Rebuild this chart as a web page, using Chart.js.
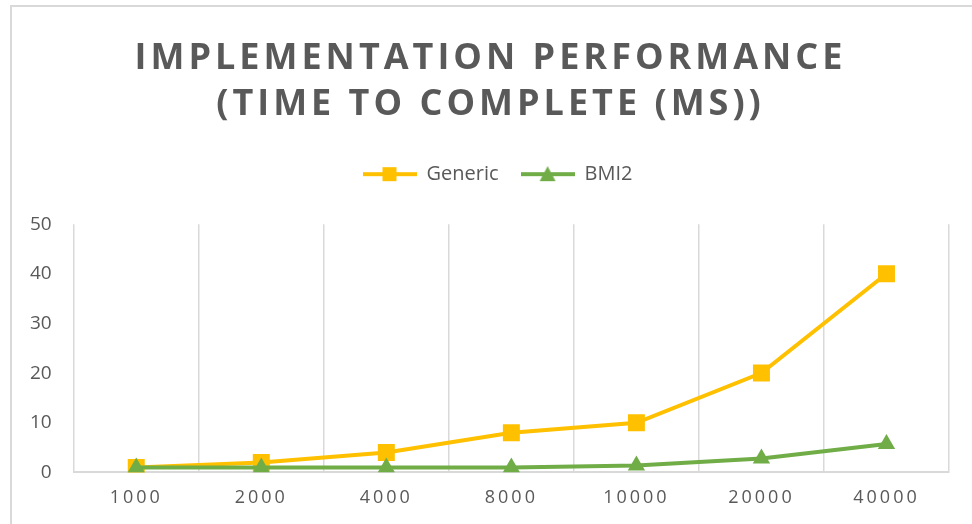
<!DOCTYPE html>
<html>
<head>
<meta charset="utf-8">
<title>Implementation performance</title>
<script src="https://cdn.jsdelivr.net/npm/chart.js@4.4.1/dist/chart.umd.min.js"></script>
<style>
  html, body { margin: 0; padding: 0; background: #fff; overflow: hidden; }
  #wrap { position: relative; width: 972px; height: 524px; }
  #frame {
    position: absolute; left: 10px; top: 5px; width: 1000px; height: 600px;
    border: 2px solid #d9d9d9; pointer-events: none;
  }
</style>
</head>
<body>
<div id="wrap">
  <canvas id="grafico" width="972" height="524"></canvas>
  <div id="frame"></div>
</div>
<script>
const categorias = ["1000", "2000", "4000", "8000", "10000", "20000", "40000"];
const generic = [1, 2, 4, 8, 10, 20, 40];
const bmi2 = [1, 1, 1, 1, 1.4, 2.8, 5.7];
const yTicks = [0, 10, 20, 30, 40, 50];

const gris = "#595959";
const amarillo = "#FFC000";
const verde = "#70AD47";

// legend swatch: line with the marker in the middle, like the series
function swatch(color, forma) {
    const c = document.createElement("canvas");
    c.width = 54; c.height = 18;
    const g = c.getContext("2d");
    g.strokeStyle = color;
    g.lineWidth = 4;
    g.beginPath(); g.moveTo(0, 9); g.lineTo(54, 9); g.stroke();
    g.fillStyle = color;
    if (forma === "rect") {
        g.fillRect(20, 2, 14, 14);
    } else {
        g.beginPath(); g.moveTo(27, 1); g.lineTo(35, 16); g.lineTo(19, 16); g.closePath(); g.fill();
    }
    return c;
}
const iconos = [swatch(amarillo, "rect"), swatch(verde, "triangle")];

// wraps a draw method with letter spacing and a small horizontal shift
function envolver(obj, metodo, espaciado, dx) {
    const orig = obj[metodo];
    obj[metodo] = function () {
        const ctx = this.ctx;
        ctx.save();
        ctx.letterSpacing = espaciado;
        ctx.translate(dx, 0);
        orig.apply(this, arguments);
        ctx.restore();
    };
}

// title/legend centred on the page, spaced x labels, room under the legend
const ajustes = {
    id: "ajustes",
    beforeLayout(chart) {
        const lg = chart.legend;
        if (lg && !lg._ajustado) {
            const fit = lg.fit;
            lg.fit = function () { fit.call(this); this.height += 30; };
            envolver(lg, "draw", "0px", 19);
            lg._ajustado = true;
        }
        const t = chart.titleBlock;
        if (t && !t._ajustado) {
            envolver(t, "draw", "4px", 12);
            t._ajustado = true;
        }
    },
    beforeDraw(chart) {
        const x = chart.scales.x;
        if (x && !x._ajustado) {
            envolver(x, "drawLabels", "3px", 0);
            x._ajustado = true;
        }
    }
};

new Chart("grafico", {
    type: "line",
    data: {
        labels: categorias,
        datasets: [{
            label: "Generic",
            data: generic,
            order: 1,
            borderColor: amarillo,
            backgroundColor: amarillo,
            borderWidth: 4,
            pointStyle: "rect",
            pointRadius: 12,
            pointHoverRadius: 12,
            pointBorderWidth: 0,
            tension: 0,
            fill: false
        }, {
            label: "BMI2",
            data: bmi2,
            order: 0, // green series sits on top of the yellow one
            borderColor: verde,
            backgroundColor: verde,
            borderWidth: 4,
            pointStyle: "triangle",
            pointRadius: 10,
            pointHoverRadius: 10,
            pointBorderWidth: 0,
            tension: 0,
            fill: false
        }]
    },
    options: {
        responsive: false,
        animation: false,
        layout: { padding: { left: 8, right: 23, top: 0, bottom: 0 } },
        plugins: {
            title: {
                display: true,
                text: ["IMPLEMENTATION PERFORMANCE", "(TIME TO COMPLETE (MS))"],
                color: gris,
                font: { family: "'Open Sans'", size: 36, weight: "bold", lineHeight: 1.28 },
                padding: { top: 36, bottom: 14 }
            },
            legend: {
                display: true,
                labels: {
                    color: gris,
                    font: { family: "'Open Sans'", size: 20 },
                    usePointStyle: true,
                    pointStyleWidth: 54,
                    padding: 22,
                    sort: (a, b) => a.datasetIndex - b.datasetIndex,
                    generateLabels(chart) {
                        const items = Chart.defaults.plugins.legend.labels.generateLabels(chart);
                        items.forEach(it => { it.pointStyle = iconos[it.datasetIndex]; });
                        return items;
                    }
                }
            },
            tooltip: { enabled: false }
        },
        scales: {
            x: {
                offset: true,
                grid: { display: true, offset: true, color: "#d9d9d9", lineWidth: 1.5, drawTicks: false },
                border: { display: true, color: "#d9d9d9", width: 2 },
                ticks: { color: gris, font: { family: "'Open Sans'", size: 18 }, padding: 15, maxRotation: 0 }
            },
            y: {
                min: 0,
                max: 50,
                afterBuildTicks(axis) { axis.ticks = yTicks.map(v => ({ value: v })); },
                grid: { display: false, drawTicks: false },
                border: { display: false },
                ticks: { color: gris, font: { family: "'Open Sans'", size: 19 }, padding: 22 }
            }
        }
    },
    plugins: [ajustes]
});
</script>
</body>
</html>
